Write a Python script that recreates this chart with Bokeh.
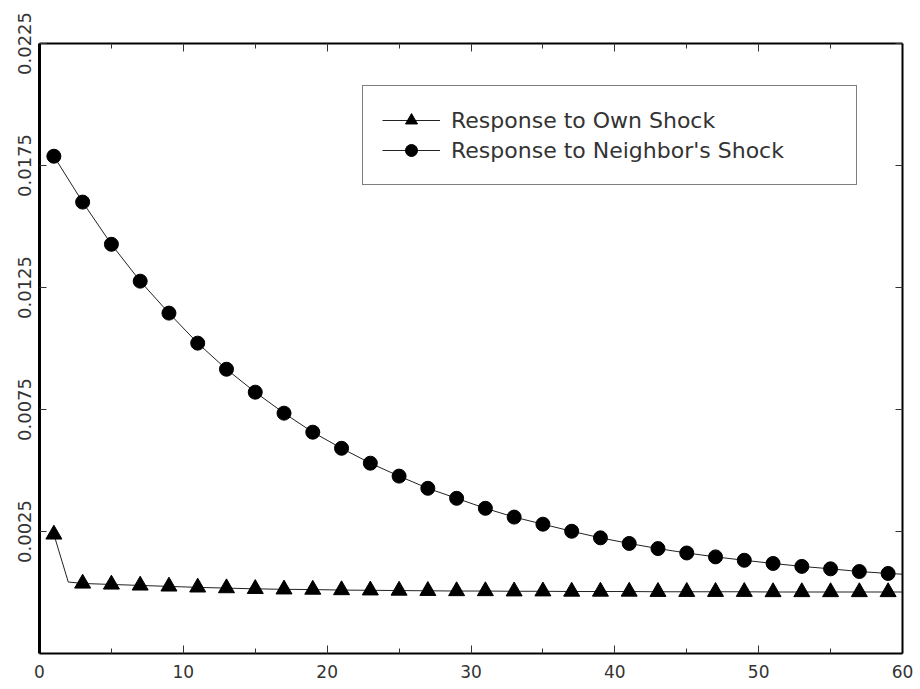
from bokeh.plotting import figure
from bokeh.models import LinearAxis, FixedTicker, PrintfTickFormatter, Legend, LegendItem, Range1d
from bokeh.embed import file_html
from bokeh.resources import INLINE

# ---- data ----
marker_periods = [1, 3, 5, 7, 9, 11, 13, 15, 17, 19, 21, 23, 25, 27, 29,
                  31, 33, 35, 37, 39, 41, 43, 45, 47, 49, 51, 53, 55, 57, 59]

neighbor_shock = [0.01788, 0.01600, 0.01427, 0.01276, 0.01145, 0.01022, 0.00915,
                  0.00821, 0.00735, 0.00657, 0.00591, 0.00530, 0.00477, 0.00427,
                  0.00386, 0.00345, 0.00309, 0.00280, 0.00251, 0.00224, 0.00201,
                  0.00180, 0.00162, 0.00146, 0.00132, 0.00119, 0.00107, 0.00097,
                  0.00086, 0.00078]

own_shock = [0.00238, 0.00037, 0.00033, 0.00029, 0.00025, 0.00021, 0.00018,
             0.00015, 0.00013, 0.00012, 0.00010, 0.00009, 0.00008, 0.00007,
             0.00006, 0.00006, 0.00005, 0.00005, 0.00004, 0.00004, 0.00004,
             0.00003, 0.00003, 0.00003, 0.00003, 0.00002, 0.00002, 0.00002,
             0.00002, 0.00002]

# line traces (include the kink at period 2 and the end point at period 60)
own_line_periods = [1, 2, 3, 5, 7, 9, 11, 13, 15, 17, 19, 21, 23, 25, 27, 29,
                    31, 33, 35, 37, 39, 41, 43, 45, 47, 49, 51, 53, 55, 57, 59, 60]
own_line_values = [0.00238, 0.00043, 0.00037, 0.00033, 0.00029, 0.00025, 0.00021,
                   0.00018, 0.00015, 0.00013, 0.00012, 0.00010, 0.00009, 0.00008,
                   0.00007, 0.00006, 0.00006, 0.00005, 0.00005, 0.00004, 0.00004,
                   0.00004, 0.00003, 0.00003, 0.00003, 0.00003, 0.00002, 0.00002,
                   0.00002, 0.00002, 0.00002, 0.00002]

neighbor_line_periods = marker_periods + [60]
neighbor_line_values = neighbor_shock + [0.00075]

x_major_ticks = [0, 10, 20, 30, 40, 50, 60]
x_minor_ticks = [5, 15, 25, 35, 45, 55]
y_major_ticks = [0.0025, 0.0075, 0.0125, 0.0175, 0.0225]

labels = ["Response to Own Shock", "Response to Neighbor's Shock"]

TICK_FONT = "DejaVu Sans"
TEXT_COLOR = "#333333"

p = figure(width=920, height=689, output_backend="svg", toolbar_location=None,
           x_range=Range1d(0, 60), y_range=Range1d(-0.0025, 0.0225),
           x_axis_location=None, y_axis_location=None,
           min_border_left=39, min_border_right=18,
           min_border_top=43, min_border_bottom=36)
p.outline_line_color = None
p.xgrid.visible = False
p.ygrid.visible = False
p.background_fill_color = "white"
p.border_fill_color = "white"


def style_axis(ax, show_labels, line_width, font_size):
    ax.axis_line_color = "black"
    ax.axis_line_width = line_width
    ax.major_tick_line_color = "#333333"
    ax.minor_tick_line_color = "#333333"
    ax.major_tick_out = 0
    ax.minor_tick_out = 0
    if show_labels:
        ax.major_label_text_font = TICK_FONT
        ax.major_label_text_font_size = font_size
        ax.major_label_text_color = TEXT_COLOR
    else:
        # mirrored axis: ticks only, labels not drawn
        ax.major_label_text_font_size = "1px"
        ax.major_label_text_color = None
        ax.major_label_standoff = 0


# bottom / top
for loc, show, lw in (("below", True, 2), ("above", False, 2)):
    ax = LinearAxis(ticker=FixedTicker(ticks=x_major_ticks, minor_ticks=x_minor_ticks))
    style_axis(ax, show, lw, "17px")
    ax.major_tick_in = 8
    ax.minor_tick_in = 5
    if show:
        ax.major_label_standoff = 11
    p.add_layout(ax, loc)

# left / right
for loc, show, lw in (("left", True, 3), ("right", False, 2)):
    ax = LinearAxis(ticker=FixedTicker(ticks=y_major_ticks, minor_ticks=[]),
                    formatter=PrintfTickFormatter(format="%.4f"))
    style_axis(ax, show, lw, "18px")
    ax.major_tick_in = 7
    ax.minor_tick_in = 0
    if show:
        ax.major_label_orientation = "vertical"
        ax.major_label_standoff = 9
    p.add_layout(ax, loc)

# series
own_line = p.line(own_line_periods, own_line_values, line_color="#222222", line_width=1)
own_pts = p.scatter(marker_periods, own_shock, marker="triangle", size=16,
                    fill_color="black", line_color="black")
nb_line = p.line(neighbor_line_periods, neighbor_line_values, line_color="#222222", line_width=1)
nb_pts = p.scatter(marker_periods, neighbor_shock, marker="circle", size=14,
                   fill_color="black", line_color="black")

legend = Legend(items=[LegendItem(label=labels[0], renderers=[own_line, own_pts]),
                       LegendItem(label=labels[1], renderers=[nb_line, nb_pts])],
                location=(323, 468),
                border_line_color="black", border_line_width=1.5,
                background_fill_color="white", background_fill_alpha=1.0,
                padding=19, spacing=0, label_height=30, glyph_height=30,
                glyph_width=58, label_standoff=11, label_width=386,
                label_text_font=TICK_FONT, label_text_font_size="22px",
                label_text_color=TEXT_COLOR)
p.add_layout(legend, "center")

open("out.html", "w").write(file_html(p, INLINE))
